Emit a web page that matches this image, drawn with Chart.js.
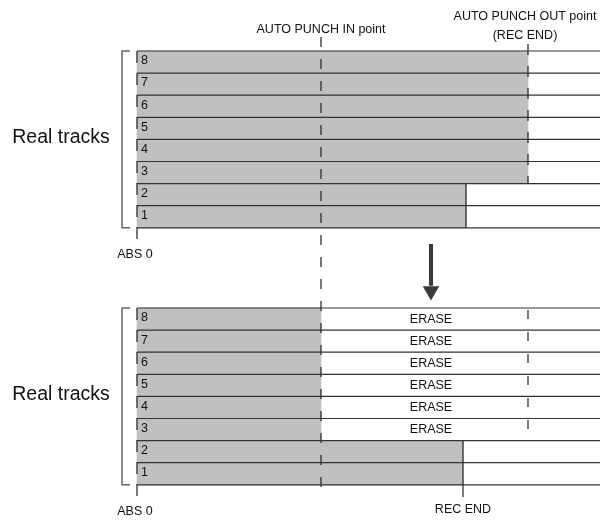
<!DOCTYPE html>
<html>
<head>
<meta charset="utf-8">
<script src="https://cdn.jsdelivr.net/npm/chart.js@4"></script>
<style>
  html, body { margin: 0; padding: 0; background: #fff; }
</style>
</head>
<body>
<canvas id="punchChart" width="602" height="521"></canvas>
<script>
// tracks top to bottom, time measured from ABS 0
const tracks = [8, 7, 6, 5, 4, 3, 2, 1];
const timelineEnd = 463;
const punchIn = 184;
const punchOut = 391;
const recEndBefore = 329;
const recEndAfter = 326;
// recorded length of each track before / after the auto punch
const endBefore = [391, 391, 391, 391, 391, 391, 329, 329];
const endAfter = [184, 184, 184, 184, 184, 184, 326, 326];
const erased = [true, true, true, true, true, true, false, false];
// row offsets of the two panels
const topPanel = 0;
const bottomPanel = 11.63;

const ink = '#333';
const datasets = [];

const line = (pts, opts) => datasets.push(Object.assign({
  type: 'line',
  data: pts,
  borderColor: ink,
  borderWidth: 1.2,
  pointRadius: 0,
  fill: false,
  tension: 0,
  order: 0
}, opts || {}));

// grey recorded areas
const bars = [];
tracks.forEach((t, i) => bars.push({ x: [0, endBefore[i]], y: topPanel + i + 0.5 }));
tracks.forEach((t, i) => bars.push({ x: [0, endAfter[i]], y: bottomPanel + i + 0.5 }));
datasets.push({
  type: 'bar',
  indexAxis: 'y',
  data: bars,
  backgroundColor: '#c0c0c0',
  borderWidth: 0,
  barPercentage: 1,
  categoryPercentage: 1,
  grouped: false,
  order: 10
});

// row lines
[topPanel, bottomPanel].forEach(p => {
  for (let r = 0; r <= tracks.length; r++) {
    line([{ x: 0, y: p + r }, { x: timelineEnd, y: p + r }]);
  }
  // bracket
  line([{ x: -7, y: p }, { x: -15, y: p }, { x: -15, y: p + 8 }, { x: -7, y: p + 8 }],
       { borderColor: '#666', borderWidth: 1.5 });
});

// ABS 0 marks
line([{ x: 0, y: topPanel }, { x: 0, y: topPanel + 8.64 }], { borderDash: [12, 10], borderColor: '#222' });
line([{ x: 0, y: bottomPanel }, { x: 0, y: bottomPanel + 8.7 }], { borderDash: [12, 10], borderColor: '#222' });

// punch in point, through both panels
line([{ x: punchIn, y: -0.63 }, { x: punchIn, y: 19.73 }], { borderDash: [10, 12], borderColor: '#222' });

// punch out point
line([{ x: punchOut, y: -0.32 }, { x: punchOut, y: topPanel + 6 }], { borderDash: [11, 11], borderColor: '#222' });
line([{ x: punchOut, y: bottomPanel + 0.09 }, { x: punchOut, y: bottomPanel + 6 }], { borderDash: [9, 13], borderColor: '#222' });

// rec end edges
line([{ x: recEndBefore, y: topPanel + 6 }, { x: recEndBefore, y: topPanel + 8 }], { borderColor: '#222' });
line([{ x: recEndAfter, y: bottomPanel + 6 }, { x: recEndAfter, y: bottomPanel + 8.55 }], { borderColor: '#222' });

// arrow
line([{ x: 294, y: 8.73 }, { x: 294, y: 10.62 }], { borderWidth: 4, borderColor: '#3a3a3a' });
datasets.push({
  type: 'scatter',
  data: [{ x: 294, y: 10.86 }],
  pointStyle: 'triangle',
  rotation: 180,
  radius: 9.5,
  backgroundColor: '#3a3a3a',
  borderColor: '#3a3a3a',
  borderWidth: 0,
  order: 0
});

const textPlugin = {
  id: 'texts',
  afterDatasetsDraw(chart) {
    const { ctx, scales: { x, y } } = chart;
    const put = (s, xv, yv, size, align) => {
      ctx.font = size + 'px "Liberation Sans", Arial, sans-serif';
      ctx.textAlign = align || 'center';
      ctx.textBaseline = 'middle';
      ctx.fillText(s, x.getPixelForValue(xv), y.getPixelForValue(yv));
    };
    ctx.save();
    ctx.fillStyle = '#111';
    put('AUTO PUNCH IN point', punchIn, -0.95, 12.5);
    put('AUTO PUNCH OUT point', punchOut - 3, -1.54, 12.5);
    put('(REC END)', punchOut - 3, -0.68, 12.5);
    [topPanel, bottomPanel].forEach(p => {
      tracks.forEach((t, i) => put(String(t), 4, p + i + 0.45, 12.5, 'left'));
      put('Real tracks', -76, p + 3.9, 19.5);
      put('ABS 0', -2, p + 9.2, 12.5);
    });
    tracks.forEach((t, i) => { if (erased[i]) put('ERASE', 294, bottomPanel + i + 0.5, 12.5); });
    put('REC END', recEndAfter, bottomPanel + 9.1, 12.5);
    ctx.restore();
  }
};

new Chart(document.getElementById('punchChart'), {
  data: { datasets: datasets },
  options: {
    responsive: false,
    animation: false,
    layout: { padding: 0, autoPadding: false },
    plugins: { legend: { display: false }, tooltip: { enabled: false } },
    scales: {
      x: { type: 'linear', min: -137, max: 465, display: false, offset: false },
      y: { type: 'linear', min: -2.3077, max: 21.267, reverse: true, display: false, offset: false, grid: { offset: false } }
    }
  },
  plugins: [textPlugin]
});
</script>
</body>
</html>
